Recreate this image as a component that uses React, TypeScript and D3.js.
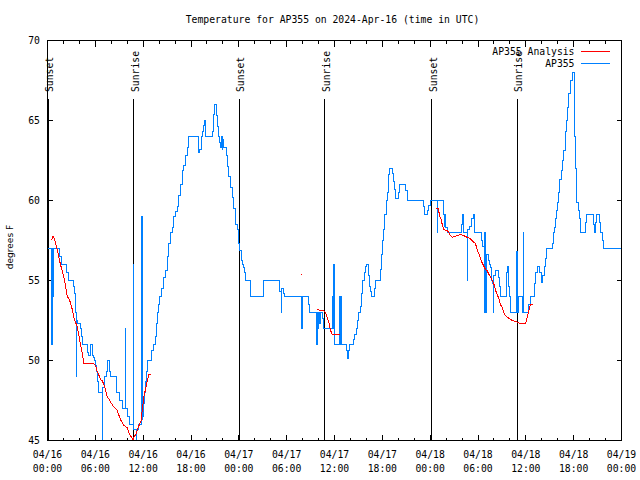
import React from "react";
import * as d3 from "d3";

const titleText = "Temperature for AP355 on 2024-Apr-16 (time in UTC)";
const yLabelText = "degrees F";
const startTime = Date.UTC(2024, 3, 16, 0, 0);
const endTime = Date.UTC(2024, 3, 19, 0, 0);
const yTicks = [45, 50, 55, 60, 65, 70];
const sunsetHours = [0.12, 24.08, 48.17];
const sunriseHours = [10.83, 34.75, 58.92];
const legendNames = ["AP355 Analysis", "AP355"];
const seriesColors = ["#ff0000", "#0080ff"];

// AP355 observations: [hours since 04/16 00:00 UTC, degF]
const blueData: [number, number][] = [
  [0.0, 57], [0.55, 51], [0.6, 57], [0.64, 54], [0.68, 56.5], [0.72, 54], [0.76, 57],
  [1.54, 56.5], [1.72, 56], [2.42, 55.5], [2.6, 55], [3.22, 54.6], [3.39, 54.2], [3.51, 53],
  [3.64, 49], [3.68, 52.5], [3.8, 52.3], [4.14, 52], [4.3, 51.5], [4.43, 51], [4.98, 50.5],
  [5.14, 50.3], [5.39, 51], [5.61, 50.3], [5.73, 50.2], [5.93, 50], [6.04, 49.7], [6.15, 49.3],
  [6.27, 48.7], [6.36, 48], [6.86, 46.5], [6.9, 44.8], [6.94, 48.3], [7.19, 49], [7.36, 49.3],
  [7.49, 50], [7.78, 49.3], [7.9, 49], [8.66, 48], [9.07, 47.5], [9.35, 47], [9.78, 52],
  [9.82, 47], [10.0, 46.5], [10.32, 46], [10.8, 56], [10.84, 45.7], [11.12, 44.8], [11.2, 45.7],
  [11.4, 46], [11.84, 59], [11.88, 46.3], [11.93, 53], [11.97, 46.5], [12.04, 47.3], [12.17, 48],
  [12.29, 48.7], [12.38, 49.3], [12.51, 50], [13.01, 50.6], [13.33, 51], [13.55, 51.5],
  [13.67, 52.3], [13.76, 53], [13.92, 53.5], [14.09, 54], [14.3, 54.5], [14.59, 55.2],
  [14.8, 55.6], [15.02, 56.5], [15.22, 57.3], [15.43, 58], [15.64, 58.3], [15.84, 59],
  [16.06, 59.3], [16.27, 59.6], [16.47, 60.3], [16.68, 61], [16.9, 61.9], [17.1, 62.2],
  [17.31, 62.8], [17.52, 63.3], [17.72, 64], [18.98, 63], [19.1, 63.2], [19.28, 64],
  [19.41, 64.3], [19.53, 64.7], [19.73, 65], [19.82, 64], [20.74, 64.3], [20.86, 65.4],
  [21.0, 66], [21.2, 65.3], [21.29, 64.6], [21.4, 64], [21.58, 63.6], [21.7, 63.3],
  [21.83, 64], [21.9, 63.2], [22.0, 63.8], [22.08, 63.3], [22.42, 62.8], [22.62, 62.1],
  [22.74, 61.5], [22.96, 60.8], [23.17, 60.2], [23.37, 59.5], [23.58, 58.5], [23.8, 58.2],
  [24.0, 57.3], [24.12, 56.9], [24.3, 56.25], [24.42, 56], [24.55, 55.8], [24.71, 55.5],
  [24.84, 55], [25.46, 54], [27.06, 55], [29.14, 54.3], [29.3, 53], [29.4, 54.5],
  [29.57, 54.2], [29.73, 54], [31.82, 52], [31.95, 54], [32.78, 53.5], [32.9, 53],
  [33.74, 51], [33.83, 53], [33.96, 52], [34.03, 53], [34.16, 52.3], [34.24, 53],
  [34.45, 52.6], [34.58, 52], [35.8, 54], [35.84, 52], [35.88, 56], [35.95, 51],
  [36.67, 54], [36.72, 51], [36.88, 54], [36.93, 51], [37.5, 50.6], [37.62, 50.1],
  [37.8, 50.6], [37.88, 51], [38.42, 51.3], [38.55, 51.6], [38.72, 52], [38.92, 52.5],
  [39.05, 53], [39.26, 53.4], [39.39, 54.2], [39.55, 55], [39.76, 55.5], [39.89, 55.9],
  [40.02, 56], [40.25, 55.3], [40.38, 54.6], [40.55, 54.3], [40.7, 54], [40.98, 54.5],
  [41.2, 55], [41.75, 55.7], [41.93, 56.6], [42.06, 57.5], [42.2, 58.2], [42.33, 59.1],
  [42.46, 60], [42.7, 60.5], [42.83, 61.6], [42.96, 62], [43.25, 61.7], [43.38, 61.2],
  [43.5, 60.7], [43.64, 60.1], [43.98, 60.5], [44.2, 61], [44.91, 60.6], [45.1, 60],
  [47.2, 59.6], [47.33, 59.1], [47.72, 59.4], [47.85, 59.7], [48.0, 60], [48.92, 58],
  [48.97, 60], [49.64, 59.1], [49.78, 58.4], [49.9, 59.1], [49.96, 58.3], [50.15, 58],
  [51.95, 58.5], [52.09, 59.1], [52.2, 58], [52.66, 55], [52.72, 58.2], [52.93, 58.4],
  [53.19, 58.9], [53.4, 59.1], [53.55, 58], [54.44, 57.5], [54.6, 57.1], [54.78, 53],
  [54.84, 58], [54.9, 56.9], [55.0, 53], [55.06, 56.6], [55.3, 56.25], [55.42, 56],
  [55.6, 55.8], [55.72, 55], [55.85, 54.8], [55.92, 53], [55.98, 55.3], [56.2, 55.6],
  [56.55, 55.2], [56.7, 54.6], [56.85, 54], [57.55, 55.5], [57.68, 55.9], [57.78, 54.6],
  [57.92, 54], [58.05, 53], [58.85, 56.8], [58.92, 53], [59.12, 54], [59.52, 53],
  [59.66, 58], [59.72, 53], [60.37, 53.5], [60.55, 54], [61.09, 54.8], [61.25, 55.5],
  [61.5, 55.9], [61.7, 55.5], [61.95, 54.9], [62.1, 55.3], [62.3, 55.9], [62.45, 56.4],
  [62.62, 57], [63.31, 57.3], [63.45, 58], [63.6, 58.3], [63.72, 58.85], [63.85, 59.4],
  [63.97, 59.9], [64.1, 60.5], [64.26, 61.3], [64.44, 61.9], [64.6, 62.5], [64.76, 63.1],
  [64.94, 64.3], [65.1, 65], [65.2, 65.8], [65.4, 66.7], [65.6, 67.5], [65.82, 68],
  [66.05, 66.5], [66.12, 64], [66.2, 62], [66.3, 61], [66.4, 59.9], [66.55, 59.4],
  [66.7, 58.85], [66.86, 58], [67.49, 58.6], [67.61, 59.1], [68.45, 58.5], [68.6, 58],
  [68.74, 58.6], [68.87, 59.1], [69.28, 58.6], [69.41, 58], [69.58, 57.5], [69.71, 57],
  [72, 57],
];

// AP355 Analysis (night-time segments)
const redNight1: [number, number][] = [
  [0.5, 57.5], [0.69, 57.8], [0.92, 57.5], [1.13, 57.1], [1.29, 56.8], [1.51, 56.25],
  [1.63, 56.0], [1.84, 55.6], [2.04, 55.2], [2.26, 54.7], [2.47, 54.0], [2.67, 53.9],
  [2.89, 53.6], [3.1, 53.2], [3.3, 52.7], [3.51, 52.4], [3.73, 52.1], [3.93, 51.6],
  [4.14, 51.0], [4.35, 50.5], [4.55, 49.8], [5.39, 49.8], [5.81, 49.8], [6.02, 49.7],
  [6.23, 49.3], [6.43, 49.1], [6.65, 48.8], [6.86, 48.75], [7.06, 48.5], [7.28, 48.2],
  [7.49, 47.7], [7.69, 47.6], [7.9, 47.4], [8.32, 47.1], [8.74, 46.9], [8.94, 46.6],
  [9.16, 46.3], [9.57, 45.95], [10.0, 45.8], [10.2, 45.5], [10.41, 45.3], [10.62, 45.15],
  [10.75, 45.0], [10.91, 45.3], [11.04, 45.35], [11.25, 45.6], [11.45, 45.9], [11.75, 46.25],
  [11.88, 46.9], [12.08, 47.7], [12.29, 48.2], [12.51, 48.75], [12.71, 49.1], [12.92, 49.1],
];
const redNight2: [number, number][] = [
  [33.83, 53.2], [34.24, 53.1], [34.66, 53.1], [34.87, 53.0], [35.09, 52.7], [35.29, 52.4],
  [35.5, 51.9], [35.71, 51.6], [36.75, 51.6],
];
const redNight3: [number, number][] = [
  [48.67, 59.5], [49.0, 59.5], [49.09, 59.3], [49.21, 59.0], [49.39, 58.8], [49.51, 58.5],
  [49.71, 58.2], [49.92, 58.15], [50.14, 58.1], [50.34, 58.0], [50.55, 57.8], [50.77, 57.7],
  [50.97, 57.75], [51.39, 57.8], [51.81, 57.9], [52.22, 57.8], [52.43, 57.75], [52.65, 57.7],
  [53.06, 57.6], [53.27, 57.5], [53.47, 57.4], [53.69, 57.3], [53.9, 56.9], [54.1, 56.7],
  [54.31, 56.35], [54.52, 56.1], [54.73, 55.9], [54.94, 55.7], [55.16, 55.6], [55.36, 55.4],
  [55.57, 55.2], [55.78, 55.0], [55.98, 54.8], [56.2, 54.4], [56.41, 54.1], [56.61, 53.9],
  [56.82, 53.5], [57.04, 53.3], [57.24, 53.0], [57.45, 52.8], [57.66, 52.7], [57.86, 52.65],
  [58.29, 52.5], [58.71, 52.45], [58.92, 52.4], [59.33, 52.3], [59.96, 52.3], [60.17, 52.7],
  [60.37, 53.1], [60.59, 53.5], [60.93, 53.5],
];
const redSegments = [redNight1, redNight2, redNight3];
const redDots: [number, number][] = [[31.86, 55.35]];

const FONT = "'DejaVu Sans Mono', 'Liberation Mono', monospace";

export default function App() {
  const W = 640;
  const H = 480;
  const left = 47.5, right = 621.5, top = 40.5, bottom = 440.5;

  const x = d3.scaleUtc().domain([new Date(startTime), new Date(endTime)]).range([left, right]);
  const y = d3.scaleLinear().domain([45, 70]).range([bottom, top]);
  const hx = (h: number) => x(new Date(startTime + h * 3600e3));

  const stepLine = d3
    .line<[number, number]>()
    .x((d) => hx(d[0]))
    .y((d) => y(d[1]))
    .curve(d3.curveStepAfter);
  const linLine = d3
    .line<[number, number]>()
    .x((d) => hx(d[0]))
    .y((d) => y(d[1]));

  const majorTicks = d3.utcHour.every(6)!.range(new Date(startTime), new Date(endTime + 1));
  const minorTicks = d3.utcHour.every(2)!.range(new Date(startTime), new Date(endTime + 1));
  const fmtDate = d3.utcFormat("%m/%d");
  const fmtTime = d3.utcFormat("%H:%M");

  const sunLines = [
    ...sunsetHours.map((h) => ({ h, label: "Sunset" })),
    ...sunriseHours.map((h) => ({ h, label: "Sunrise" })),
  ];

  return (
    <svg
      width={W}
      height={H}
      viewBox={`0 0 ${W} ${H}`}
      style={{ position: "absolute", left: 0, top: 0, background: "#fff" }}
      fontFamily={FONT}
      fontSize={9.75}
    >
      <rect x={0} y={0} width={W} height={H} fill="#fff" />
      <defs>
        <clipPath id="plotClip">
          <rect x={left - 0.5} y={top - 0.5} width={right - left + 1} height={bottom - top + 1} />
        </clipPath>
      </defs>

      <text x={332.5} y={23} textAnchor="middle" fill="#000">
        {titleText}
      </text>

      <text
        transform={`translate(13,247) rotate(-90)`}
        textAnchor="middle"
        fontFamily="'DejaVu Sans', sans-serif"
        fontSize={9}
        fill="#000"
      >
        {yLabelText}
      </text>

      <g shapeRendering="crispEdges" stroke="#000" strokeWidth={1}>
        {minorTicks.map((t, i) => (
          <g key={"mn" + i}>
            <line x1={x(t)} x2={x(t)} y1={bottom} y2={bottom - 3} />
            <line x1={x(t)} x2={x(t)} y1={top} y2={top + 3} />
          </g>
        ))}
        {majorTicks.map((t, i) => (
          <g key={"mj" + i}>
            <line x1={x(t)} x2={x(t)} y1={bottom} y2={bottom - 6} />
            <line x1={x(t)} x2={x(t)} y1={top} y2={top + 6} />
          </g>
        ))}
        {yTicks.map((v) => (
          <g key={"yt" + v}>
            <line x1={left} x2={left + 5} y1={y(v)} y2={y(v)} />
            <line x1={right} x2={right - 5} y1={y(v)} y2={y(v)} />
          </g>
        ))}
      </g>

      {yTicks.map((v) => (
        <text key={"yl" + v} x={40} y={y(v) + 3.5} textAnchor="end" fill="#000">
          {v}
        </text>
      ))}
      {majorTicks.map((t, i) => (
        <g key={"xl" + i}>
          <text x={x(t)} y={457.5} textAnchor="middle" fill="#000">
            {fmtDate(t)}
          </text>
          <text x={x(t)} y={472} textAnchor="middle" fill="#000">
            {fmtTime(t)}
          </text>
        </g>
      ))}

      {sunLines.map((s, i) => (
        <g key={"sun" + i}>
          <line
            x1={Math.round(hx(s.h) - 0.5) + 0.5}
            x2={Math.round(hx(s.h) - 0.5) + 0.5}
            y1={99}
            y2={bottom}
            stroke="#000"
            strokeWidth={1}
            shapeRendering="crispEdges"
          />
          <text
            transform={`translate(${hx(s.h) + 5},92) rotate(-90)`}
            textAnchor="start"
            fill="#000"
          >
            {s.label}
          </text>
        </g>
      ))}

      <g clipPath="url(#plotClip)" shapeRendering="crispEdges" fill="none" strokeWidth={1}>
        <path d={stepLine(blueData) || ""} stroke={seriesColors[1]} />
        {redSegments.map((seg, i) => (
          <path key={"red" + i} d={linLine(seg) || ""} stroke={seriesColors[0]} />
        ))}
        {redDots.map((d, i) => (
          <rect key={"rd" + i} x={hx(d[0]) - 0.5} y={y(d[1]) - 0.5} width={1} height={1} fill={seriesColors[0]} stroke="none" />
        ))}
      </g>

      <rect
        x={left}
        y={top}
        width={right - left}
        height={bottom - top}
        fill="none"
        stroke="#000"
        strokeWidth={1}
        shapeRendering="crispEdges"
      />

      {legendNames.map((name, i) => (
        <g key={"lg" + i}>
          <text x={574.5} y={55 + i * 12} textAnchor="end" fill="#000">
            {name}
          </text>
          <line
            x1={581}
            x2={610}
            y1={51.5 + i * 12}
            y2={51.5 + i * 12}
            stroke={seriesColors[i]}
            strokeWidth={1}
            shapeRendering="crispEdges"
          />
        </g>
      ))}
    </svg>
  );
}
